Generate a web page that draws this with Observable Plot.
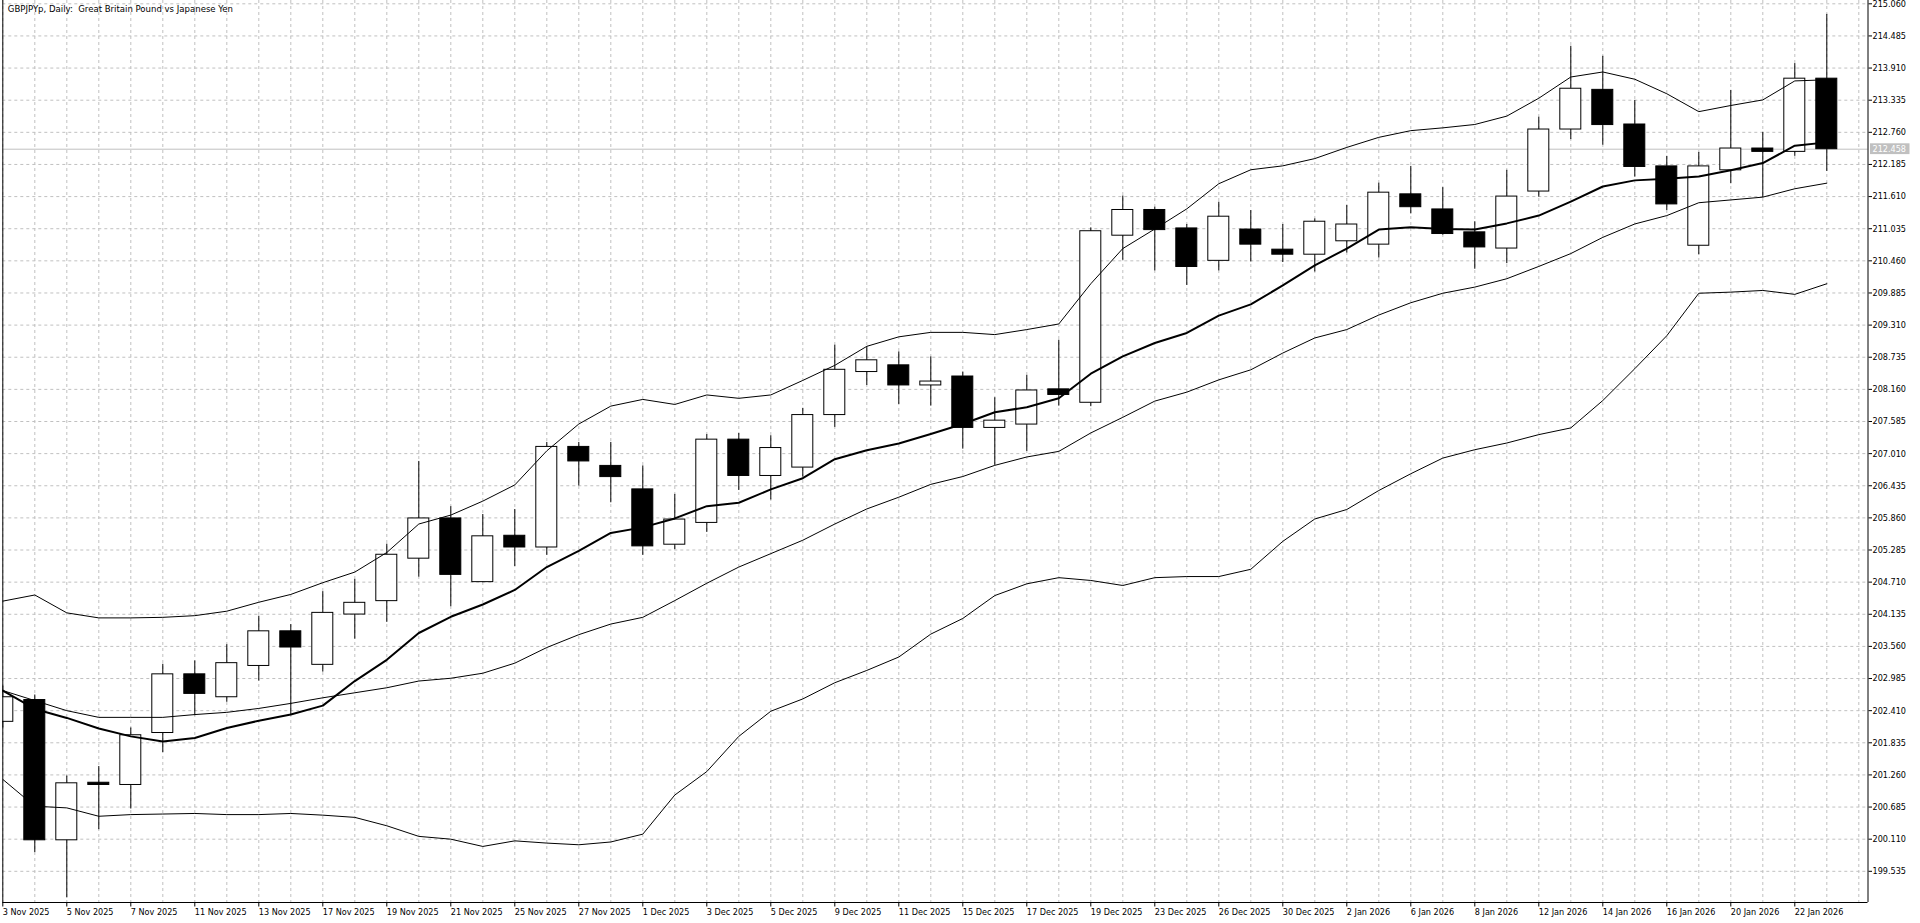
<!DOCTYPE html>
<html><head><meta charset="utf-8">
<script src="https://cdn.jsdelivr.net/npm/d3@7"></script>
<script src="https://cdn.jsdelivr.net/npm/@observablehq/plot@0.6"></script>
<style>html,body{margin:0;padding:0;background:#fff;overflow:hidden} #chart svg{display:block}</style>
</head><body><div id="chart"></div>
<script>
const title = "GBPJPYp, Daily:  Great Britain Pound vs Japanese Yen";
const dates = [
"3 Nov 2025","4 Nov 2025","5 Nov 2025","6 Nov 2025","7 Nov 2025","10 Nov 2025","11 Nov 2025","12 Nov 2025","13 Nov 2025","14 Nov 2025",
"17 Nov 2025","18 Nov 2025","19 Nov 2025","20 Nov 2025","21 Nov 2025","24 Nov 2025","25 Nov 2025","26 Nov 2025","27 Nov 2025","28 Nov 2025",
"1 Dec 2025","2 Dec 2025","3 Dec 2025","4 Dec 2025","5 Dec 2025","8 Dec 2025","9 Dec 2025","10 Dec 2025","11 Dec 2025","12 Dec 2025",
"15 Dec 2025","16 Dec 2025","17 Dec 2025","18 Dec 2025","19 Dec 2025","22 Dec 2025","23 Dec 2025","24 Dec 2025","26 Dec 2025","29 Dec 2025",
"30 Dec 2025","31 Dec 2025","2 Jan 2026","5 Jan 2026","6 Jan 2026","7 Jan 2026","8 Jan 2026","9 Jan 2026","12 Jan 2026","13 Jan 2026",
"14 Jan 2026","15 Jan 2026","16 Jan 2026","19 Jan 2026","20 Jan 2026","21 Jan 2026","22 Jan 2026","23 Jan 2026"];
const open = [
202.21,202.60,200.09,201.12,201.08,202.01,203.06,202.65,203.21,203.83,
203.23,204.13,204.37,205.13,205.85,204.71,205.54,205.33,207.13,206.79,
206.37,205.38,205.77,207.26,206.61,206.76,207.70,208.47,208.59,208.23,
208.39,207.47,207.53,208.16,207.92,210.91,211.37,211.04,210.46,211.02,
210.66,210.57,210.81,210.75,211.65,211.38,210.97,210.68,211.70,212.81,
213.52,212.90,212.15,210.73,212.08,212.47,212.41,213.72];
const high = [
202.85,202.69,201.24,201.41,202.10,203.24,203.30,203.59,204.10,203.95,
204.54,204.76,205.39,206.87,206.06,205.92,206.01,207.21,207.21,207.21,
206.79,206.28,207.35,207.37,207.33,207.82,208.95,208.92,208.83,208.74,
208.47,208.01,208.41,209.04,211.05,211.62,211.42,211.11,211.51,211.36,
211.11,211.21,211.45,211.85,212.15,211.77,211.16,212.08,213.03,214.30,
214.12,213.33,212.33,212.40,213.51,212.76,213.99,214.87];
const low = [
202.10,199.87,199.06,200.28,200.65,201.66,202.32,202.56,202.94,202.33,
203.10,203.69,203.99,204.80,204.27,204.70,204.99,205.19,206.43,206.13,
205.19,205.29,205.60,206.35,206.18,206.59,207.48,208.23,207.89,207.86,
207.09,206.80,207.05,207.86,207.85,210.47,210.28,210.02,210.28,210.44,
210.43,210.26,210.60,210.51,211.30,210.92,210.31,210.41,211.60,212.63,
212.53,211.96,211.36,210.57,211.84,211.59,212.33,212.06];
const close = [
202.65,200.09,201.11,201.08,201.97,203.06,202.71,203.26,203.83,203.54,
204.16,204.34,205.20,205.85,204.84,205.53,205.33,207.13,206.87,206.59,
205.35,205.83,207.26,206.61,207.11,207.70,208.51,208.68,208.23,208.30,
207.47,207.60,208.14,208.06,210.99,211.37,211.01,210.35,211.25,210.75,
210.57,211.16,211.11,211.68,211.42,210.94,210.70,211.61,212.81,213.54,
212.89,212.14,211.47,212.15,212.47,212.41,213.72,212.458];
const maFast = [
202.77,202.44,202.28,202.09,201.95,201.86,201.92,202.10,202.23,202.34,
202.50,202.94,203.32,203.80,204.09,204.31,204.57,204.98,205.27,205.59,
205.69,205.85,206.07,206.13,206.37,206.57,206.91,207.07,207.19,207.36,
207.54,207.75,207.84,208.00,208.44,208.75,208.99,209.17,209.48,209.68,
210.02,210.38,210.68,211.02,211.06,211.03,211.02,211.13,211.27,211.52,
211.79,211.90,211.93,211.97,212.08,212.21,212.52,212.58];
const bbUpper = [
204.37,204.48,204.16,204.07,204.07,204.08,204.11,204.19,204.35,204.49,
204.70,204.89,205.24,205.75,205.91,206.16,206.45,207.06,207.54,207.86,
207.98,207.89,208.06,208.00,208.06,208.32,208.59,208.93,209.10,209.18,
209.18,209.14,209.23,209.33,210.05,210.68,211.03,211.39,211.84,212.09,
212.16,212.29,212.49,212.67,212.79,212.84,212.90,213.05,213.37,213.75,
213.84,213.71,213.45,213.13,213.24,213.34,213.68,213.70];
const bbMiddle = [
202.77,202.59,202.41,202.29,202.29,202.29,202.34,202.38,202.45,202.54,
202.64,202.73,202.82,202.94,202.99,203.08,203.26,203.54,203.77,203.96,
204.08,204.38,204.69,204.98,205.22,205.46,205.75,206.02,206.23,206.46,
206.60,206.80,206.95,207.05,207.38,207.66,207.95,208.11,208.33,208.51,
208.81,209.08,209.23,209.49,209.71,209.88,209.99,210.14,210.36,210.59,
210.88,211.12,211.27,211.50,211.55,211.60,211.75,211.85];
const bbLower = [
201.18,200.70,200.67,200.52,200.55,200.56,200.57,200.55,200.55,200.57,
200.54,200.50,200.35,200.16,200.11,199.98,200.08,200.04,200.01,200.06,
200.20,200.90,201.32,201.95,202.40,202.62,202.91,203.13,203.37,203.78,
204.06,204.47,204.68,204.79,204.74,204.65,204.79,204.81,204.81,204.94,
205.44,205.84,206.01,206.35,206.65,206.93,207.08,207.20,207.35,207.47,
207.96,208.53,209.12,209.88,209.90,209.93,209.86,210.05];
const priceTicks = [215.060,214.485,213.910,213.335,212.760,212.185,211.610,211.035,210.460,209.885,
209.310,208.735,208.160,207.585,207.010,206.435,205.860,205.285,204.710,204.135,
203.560,202.985,202.410,201.835,201.260,200.685,200.110,199.535];

const candles = dates.map((d, i) => ({i, date: d, open: open[i], high: high[i], low: low[i], close: close[i]}));
const idx = d3.range(dates.length);
const gridX = d3.range(dates.length + 1);
const labelIdx = idx.filter(i => i % 2 === 0);

const W = 1920, H = 923, mL = 2.3, mR = 52.5, mT = 0, mB = 21;
const step = 32;
const xDomain = [0, (W - mR - mL) / step];
const pxPerUnit = 32.13 / 0.575;
const yTop = priceTicks[0] + 3.3 / pxPerUnit;
const yBottom = priceTicks[0] - (H - mB - 3.3) / pxPerUnit;
const half = 10.5 / step;
const font = "'DejaVu Sans Condensed','DejaVu Sans',sans-serif";
const grid = {stroke: "#c0c0c0", strokeDasharray: "3,3", strokeWidth: 1};
const last = close.length - 1;
const bid = [close[last]];

const chart = Plot.plot({
  width: W, height: H,
  marginLeft: mL, marginRight: mR, marginTop: mT, marginBottom: mB,
  x: {type: "linear", domain: xDomain, label: null},
  y: {type: "linear", domain: [yBottom, yTop], label: null},
  style: {fontFamily: font, fontSize: "9px", fontStretch: "condensed", background: "white", color: "black", overflow: "visible"},
  marks: [
    Plot.ruleY(priceTicks, grid),
    Plot.ruleX(gridX, grid),
    Plot.ruleY(bid, {stroke: "#c0c0c0", strokeWidth: 1}),
    Plot.ruleX(candles, {x: "i", y1: "low", y2: "high", stroke: "black", strokeWidth: 1, clip: true}),
    Plot.rect(candles.filter(d => d.close >= d.open), {x1: d => d.i - half, x2: d => d.i + half, y1: "open", y2: "close", fill: "white", stroke: "black", strokeWidth: 1, clip: true}),
    Plot.rect(candles.filter(d => d.close < d.open), {x1: d => d.i - half, x2: d => d.i + half, y1: "open", y2: "close", fill: "black", stroke: "black", strokeWidth: 1, clip: true}),
    Plot.line(idx, {x: d => d, y: d => bbUpper[d], stroke: "black", strokeWidth: 1, clip: true}),
    Plot.line(idx, {x: d => d, y: d => bbMiddle[d], stroke: "black", strokeWidth: 1, clip: true}),
    Plot.line(idx, {x: d => d, y: d => bbLower[d], stroke: "black", strokeWidth: 1, clip: true}),
    Plot.line(idx, {x: d => d, y: d => maFast[d], stroke: "black", strokeWidth: 2, clip: true}),
    Plot.ruleX([xDomain[0], xDomain[1]], {stroke: "black", strokeWidth: 1}),
    Plot.ruleY([yBottom], {stroke: "black", strokeWidth: 1}),
    Plot.axisY(priceTicks, {anchor: "right", label: null, tickSize: 3.5, tickPadding: 1, tickFormat: d => d.toFixed(3), fontSize: 9}),
    Plot.axisX(labelIdx, {anchor: "bottom", label: null, tickSize: 4.5, tickPadding: 1.5, tickFormat: i => dates[i], textAnchor: "start", fontSize: 9}),
    // current bid price label on the price axis
    Plot.rect(bid, {x1: xDomain[1] + 2.5 / step, x2: xDomain[1] + 42 / step, y1: d => d - 5.4 / pxPerUnit, y2: d => d + 5.4 / pxPerUnit, fill: "#c0c0c0"}),
    Plot.text(bid, {x: xDomain[1], y: d => d, text: d => d.toFixed(3), dx: 4.5, textAnchor: "start", fill: "white", fontSize: 9}),
    Plot.text([title], {text: d => d, frameAnchor: "top-left", dx: 5, dy: 5, fontSize: 9.5, textAnchor: "start", lineAnchor: "top"})
  ]
});
document.getElementById("chart").appendChild(chart);
</script>
</body></html>
